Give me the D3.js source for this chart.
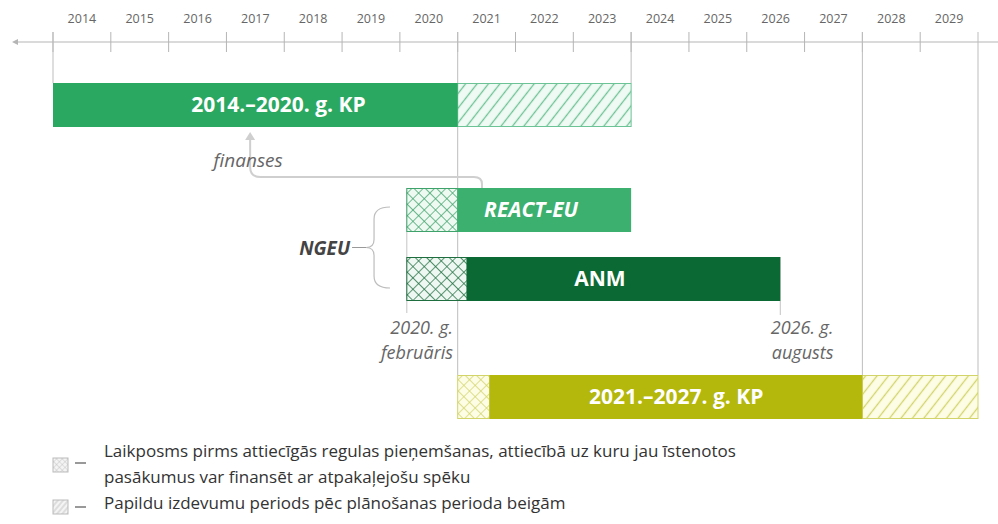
<!DOCTYPE html>
<html>
<head>
<meta charset="utf-8">
<script src="https://cdn.jsdelivr.net/npm/d3@7"></script>
<style>
body { margin: 0; background: #fff; }
svg { display: block; font-family: "Open Sans", sans-serif; }
</style>
</head>
<body>
<svg id="chart"></svg>
<script>
//data//
var yearLabels = [2014, 2015, 2016, 2017, 2018, 2019, 2020, 2021, 2022, 2023, 2024, 2025, 2026, 2027, 2028, 2029];
var programmes = ["2014.–2020. g. KP", "REACT-EU", "ANM", "2021.–2027. g. KP"];
var retroStart = [null, 2020.12, 2020.12, 2021];      // crosshatched part starts
var mainStart  = [2014, 2021, 2021.16, 2021.55];      // solid part starts
var mainEnd    = [2021, 2024, 2026.58, 2028];         // solid part ends
var extraEnd   = [2024, null, null, 2030];            // hatched extra period ends
var markYears  = [2014, 2021, 2024, 2028, 2030];      // long guide lines
var legendText = [
  ["Laikposms pirms attiecīgās regulas pieņemšanas, attiecībā uz kuru jau īstenotos",
   "pasākumus var finansēt ar atpakaļejošu spēku"],
  ["Papildu izdevumu periods pēc plānošanas perioda beigām"]
];

//variables//
var screen = {width: 998, height: 524};
var x = d3.scaleLinear().domain([2014, 2030]).range([53, 978]);
var rowY = d3.scaleOrdinal().domain(programmes).range([83, 188, 257, 375]);
var barH = 44;
var fills = d3.scaleOrdinal().domain(programmes).range(["#2aa862", "#3cb06e", "#0b6a33", "#b4b70c"]);
var hatchLine = d3.scaleOrdinal().domain(programmes).range(["#6cc395", "#3fa26a", "#1f6e40", "#d2d46a"]);
var hatchBg = d3.scaleOrdinal().domain(programmes).range(["#f0faf4", "#eef9f2", "#eef7f1", "#fdfde6"]);

var svg = d3.select("#chart")
            .attr("width", screen.width)
            .attr("height", screen.height);

var defs = svg.append("defs");

//patterns: diagonal and crosshatch per programme//
programmes.forEach(function(p, i)
{
  var d = defs.append("pattern")
              .attr("id", "diag" + i)
              .attr("patternUnits", "userSpaceOnUse")
              .attr("width", 9).attr("height", 9)
              .attr("patternTransform", "rotate(38)");
  d.append("rect").attr("width", 9).attr("height", 9).attr("fill", hatchBg(p));
  d.append("line").attr("x1", 4.5).attr("y1", 0).attr("x2", 4.5).attr("y2", 9)
   .attr("stroke", hatchLine(p)).attr("stroke-width", 1.3);

  var c = defs.append("pattern")
              .attr("id", "cross" + i)
              .attr("patternUnits", "userSpaceOnUse")
              .attr("width", 8).attr("height", 8)
              .attr("patternTransform", "rotate(45)");
  c.append("rect").attr("width", 8).attr("height", 8).attr("fill", hatchBg(p));
  c.append("path").attr("d", "M0,0V8M0,0H8")
   .attr("stroke", hatchLine(p)).attr("stroke-width", 1.4);
});

//legend patterns (gray)//
var ld = defs.append("pattern").attr("id", "legDiag").attr("patternUnits", "userSpaceOnUse")
             .attr("width", 4).attr("height", 4).attr("patternTransform", "rotate(40)");
ld.append("rect").attr("width", 4).attr("height", 4).attr("fill", "#f4f4f4");
ld.append("line").attr("x1", 2).attr("y1", 0).attr("x2", 2).attr("y2", 4).attr("stroke", "#bbb").attr("stroke-width", 0.8);
var lc = defs.append("pattern").attr("id", "legCross").attr("patternUnits", "userSpaceOnUse")
             .attr("width", 4).attr("height", 4).attr("patternTransform", "rotate(45)");
lc.append("rect").attr("width", 4).attr("height", 4).attr("fill", "#f4f4f4");
lc.append("path").attr("d", "M0,0V4M0,0H4").attr("stroke", "#bbb").attr("stroke-width", 0.8);

//axis//
var axisY = 42;
svg.append("line")
   .attr("x1", 14).attr("x2", screen.width)
   .attr("y1", axisY).attr("y2", axisY)
   .style("stroke", "#b5b5b5").style("stroke-width", 1);
svg.append("path")
   .attr("d", "M12," + axisY + "l6,-3v6z")
   .style("fill", "#b5b5b5");

svg.append("g")
   .selectAll("line")
   .data(yearLabels)
   .enter()
   .append("line")
   .attr("x1", function(d) { return x(d); })
   .attr("x2", function(d) { return x(d); })
   .attr("y1", 32).attr("y2", 52)
   .style("stroke", "#b5b5b5");

svg.append("g")
   .selectAll("text")
   .data(yearLabels)
   .enter()
   .append("text")
   .attr("x", function(d) { return x(d + 0.5); })
   .attr("y", 23)
   .attr("text-anchor", "middle")
   .style("font-size", "12.5px")
   .style("fill", "#666")
   .text(function(d) { return d; });

//long guide lines//
var guideEnd = {2014: 83, 2021: 375, 2024: 83, 2028: 375, 2030: 375};
svg.append("g")
   .selectAll("line")
   .data(markYears)
   .enter()
   .append("line")
   .attr("x1", function(d) { return x(d); })
   .attr("x2", function(d) { return x(d); })
   .attr("y1", 32)
   .attr("y2", function(d) { return guideEnd[d]; })
   .style("stroke", "#bdbdbd");

//date guide lines under NGEU bars//
svg.append("line")
   .attr("x1", x(retroStart[1])).attr("x2", x(retroStart[1]))
   .attr("y1", rowY(programmes[1])).attr("y2", rowY(programmes[2]) + barH + 12)
   .style("stroke", "#c4c4c4");
svg.append("line")
   .attr("x1", x(mainEnd[2])).attr("x2", x(mainEnd[2]))
   .attr("y1", rowY(programmes[2])).attr("y2", rowY(programmes[2]) + barH + 14)
   .style("stroke", "#c4c4c4");

//finanses arrow//
var ax = x(2021.42), tx = x(2017.41), ay = rowY(programmes[1]), hy = 177;
svg.append("path")
   .attr("d", "M" + ax + "," + ay + "V" + (hy + 7) + "Q" + ax + "," + hy + " " + (ax - 8) + "," + hy +
              "H" + (tx + 10) + "Q" + tx + "," + hy + " " + tx + "," + (hy - 10) + "V" + 138)
   .style("fill", "none").style("stroke", "#cfcfcf").style("stroke-width", 2);
svg.append("path")
   .attr("d", "M" + (tx - 5) + ",140L" + tx + ",132L" + (tx + 5) + ",140z")
   .style("fill", "#cfcfcf");
svg.append("text")
   .attr("x", tx - 2).attr("y", 167)
   .attr("text-anchor", "middle")
   .style("font-size", "19px").style("font-style", "italic")
   .style("fill", "#666")
   .text("finanses");

//bars//
var rows = svg.append("g")
              .selectAll("g")
              .data(programmes)
              .enter()
              .append("g");

rows.filter(function(d, i) { return retroStart[i] != null; })
    .append("rect")
    .attr("x", function(d, i) { return x(retroStart[programmes.indexOf(d)]); })
    .attr("y", function(d) { return rowY(d) + 0.5; })
    .attr("width", function(d) { var i = programmes.indexOf(d); return x(mainStart[i]) - x(retroStart[i]); })
    .attr("height", barH - 1)
    .attr("fill", function(d) { return "url(#cross" + programmes.indexOf(d) + ")"; })
    .style("stroke", function(d) { return hatchLine(d); })
    .style("stroke-width", 1);

rows.filter(function(d, i) { return extraEnd[i] != null; })
    .append("rect")
    .attr("x", function(d) { return x(mainEnd[programmes.indexOf(d)]); })
    .attr("y", function(d) { return rowY(d) + 0.5; })
    .attr("width", function(d) { var i = programmes.indexOf(d); return x(extraEnd[i]) - x(mainEnd[i]); })
    .attr("height", barH - 1)
    .attr("fill", function(d) { return "url(#diag" + programmes.indexOf(d) + ")"; })
    .style("stroke", function(d) { return hatchLine(d); })
    .style("stroke-width", 1);

rows.append("rect")
    .attr("x", function(d, i) { return x(mainStart[i]); })
    .attr("y", function(d) { return rowY(d); })
    .attr("width", function(d, i) { return x(mainEnd[i]) - x(mainStart[i]); })
    .attr("height", barH)
    .style("fill", function(d) { return fills(d); });

var labelX = [2017.9, 2022.27, 2023.46, 2024.78];
rows.append("text")
    .attr("x", function(d, i) { return x(labelX[i]); })
    .attr("y", function(d) { return rowY(d) + barH / 2 + 7; })
    .attr("text-anchor", "middle")
    .style("font-size", "21px")
    .style("font-weight", "bold")
    .style("font-style", function(d) { return d == "REACT-EU" ? "italic" : "normal"; })
    .style("fill", "#fff")
    .text(function(d) { return d; });

//date labels//
var dateLabels = [
  {lines: ["2020. g.", "februāris"], x: x(2020.92)},
  {lines: ["2026. g.", "augusts"], x: x(2027.5)}
];
dateLabels.forEach(function(l)
{
  svg.append("text")
     .attr("text-anchor", "end")
     .style("font-size", "18px").style("font-style", "italic")
     .style("fill", "#666")
     .selectAll("tspan")
     .data(l.lines)
     .enter()
     .append("tspan")
     .attr("x", l.x)
     .attr("y", function(d, i) { return 334 + i * 25; })
     .text(function(d) { return d; });
});

//NGEU brace//
var bx = x(2019.83), braceTop = rowY(programmes[1]) + 19, braceBot = rowY(programmes[2]) + 31;
var braceMid = (braceTop + braceBot) / 2;
svg.append("path")
   .attr("d", "M" + bx + "," + braceTop + "Q" + (bx - 16) + "," + braceTop + " " + (bx - 16) + "," + (braceTop + 12) +
              "V" + (braceMid - 8) + "Q" + (bx - 16) + "," + braceMid + " " + (bx - 24) + "," + braceMid +
              "Q" + (bx - 16) + "," + braceMid + " " + (bx - 16) + "," + (braceMid + 8) +
              "V" + (braceBot - 12) + "Q" + (bx - 16) + "," + braceBot + " " + bx + "," + braceBot)
   .style("fill", "none").style("stroke", "#bdbdbd").style("stroke-width", 1.2);
svg.append("line")
   .attr("x1", bx - 38).attr("x2", bx - 24).attr("y1", braceMid).attr("y2", braceMid)
   .style("stroke", "#999").style("stroke-width", 1);
svg.append("text")
   .attr("x", bx - 40).attr("y", braceMid + 7)
   .attr("text-anchor", "end")
   .style("font-size", "19px").style("font-weight", "bold").style("font-style", "italic")
   .style("fill", "#444")
   .text("NGEU");

//legend//
var legend = svg.append("g");
legend.append("rect").attr("x", 53).attr("y", 458).attr("width", 15).attr("height", 14)
      .attr("fill", "url(#legCross)").style("stroke", "#bbb");
legend.append("rect").attr("x", 53).attr("y", 500).attr("width", 15).attr("height", 14)
      .attr("fill", "url(#legDiag)").style("stroke", "#bbb");
legend.selectAll("line.dash")
      .data([463, 507])
      .enter()
      .append("line")
      .attr("x1", 75).attr("x2", 86)
      .attr("y1", function(d) { return d; }).attr("y2", function(d) { return d; })
      .style("stroke", "#555").style("stroke-width", 1.2);
var legLines = [legendText[0][0], legendText[0][1], legendText[1][0]];
legend.selectAll("text")
      .data(legLines)
      .enter()
      .append("text")
      .attr("x", 104)
      .attr("y", function(d, i) { return 457 + i * 26; })
      .style("font-size", "17px")
      .style("fill", "#333")
      .text(function(d) { return d; });
</script>
</body>
</html>
